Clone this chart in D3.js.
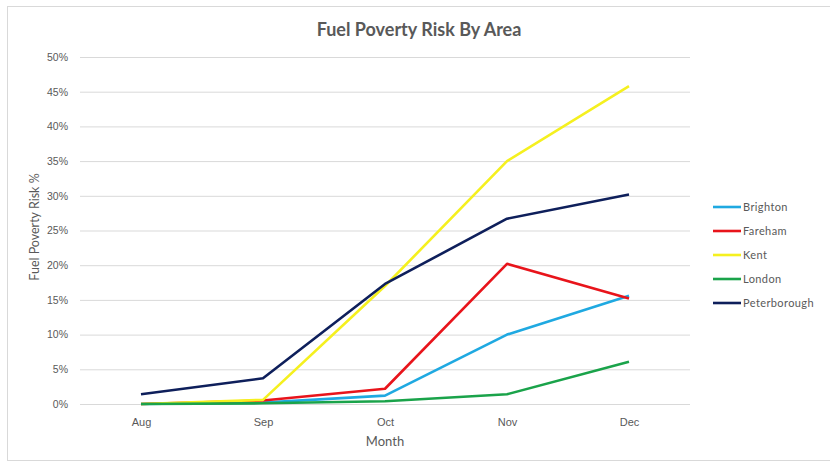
<!DOCTYPE html>
<html>
<head>
<meta charset="utf-8">
<script src="https://cdn.jsdelivr.net/npm/d3@7"></script>
<style>
  html, body { margin: 0; padding: 0; background: #fff; }
  svg { display: block; font-family: Lato, "Open Sans", sans-serif; }
</style>
</head>
<body>
<svg id="chart" width="830" height="465"></svg>
<script>
// Monthly fuel poverty risk (%) per area
const months = ["Aug", "Sep", "Oct", "Nov", "Dec"];
const areas = ["Brighton", "Fareham", "Kent", "London", "Peterborough"];
const colors = ["#1fa9e1", "#e8141b", "#f5f01f", "#1aa34a", "#0e1f5b"];
const brighton     = [0, 0.2, 1.2, 10.0, 15.6];
const fareham      = [0, 0.5, 2.2, 20.2, 15.2];
const kent         = [0, 0.6, 17.0, 35.0, 45.8];
const london       = [0, 0.1, 0.4, 1.4, 6.1];
const peterborough = [1.4, 3.7, 17.3, 26.7, 30.2];
const yTicks = [0, 5, 10, 15, 20, 25, 30, 35, 40, 45, 50];

const series = [brighton, fareham, kent, london, peterborough];

const svg = d3.select("#chart");

// outer chart frame
svg.append("rect")
  .attr("x", 7.5).attr("y", 6.5)
  .attr("width", 840).attr("height", 454)
  .attr("fill", "#fff").attr("stroke", "#d9d9d9");

const plot = { left: 80, right: 690, top: 57, bottom: 404 };

const x = d3.scalePoint().domain(months)
  .range([plot.left, plot.right]).padding(0.5);
const y = d3.scaleLinear().domain([0, 50]).range([plot.bottom, plot.top]);

// horizontal gridlines + y tick labels
const yAxis = d3.axisLeft(y)
  .tickValues(yTicks)
  .tickFormat(d => d + "%")
  .tickSize(-(plot.right - plot.left))
  .tickPadding(12);
const gy = svg.append("g")
  .attr("transform", `translate(${plot.left},0)`)
  .call(yAxis);
gy.select(".domain").remove();
gy.selectAll(".tick line").attr("stroke", "#d9d9d9").attr("stroke-width", 1);
gy.selectAll(".tick text").attr("fill", "#595959").attr("font-size", 10.5);

// x axis labels
const xAxis = d3.axisBottom(x).tickSize(0).tickPadding(14);
const gx = svg.append("g")
  .attr("transform", `translate(0,${plot.bottom})`)
  .call(xAxis);
gx.select(".domain").remove();
gx.selectAll(".tick text").attr("fill", "#595959").attr("font-size", 11);

// lines
const line = d3.line()
  .x((d, i) => x(months[i]))
  .y(d => y(d));

svg.append("g").selectAll("path")
  .data(series)
  .join("path")
  .attr("d", line)
  .attr("fill", "none")
  .attr("stroke", (d, i) => colors[i])
  .attr("stroke-width", 2.6)
  .attr("stroke-linejoin", "round");

// title
svg.append("text")
  .attr("x", 419).attr("y", 36)
  .attr("text-anchor", "middle")
  .attr("fill", "#595959")
  .attr("font-size", 18)
  .attr("font-weight", "bold")
  .text("Fuel Poverty Risk By Area");

// axis titles
svg.append("text")
  .attr("x", 385).attr("y", 446)
  .attr("text-anchor", "middle")
  .attr("fill", "#595959")
  .attr("font-size", 13)
  .text("Month");

svg.append("text")
  .attr("transform", "translate(39,227) rotate(-90)")
  .attr("text-anchor", "middle")
  .attr("fill", "#595959")
  .attr("font-size", 12.5)
  .text("Fuel Poverty Risk %");

// legend
const legend = svg.append("g").attr("transform", "translate(713,207)");
const items = legend.selectAll("g")
  .data(areas)
  .join("g")
  .attr("transform", (d, i) => `translate(0,${i * 24})`);
items.append("line")
  .attr("x1", 0).attr("x2", 28)
  .attr("stroke", (d, i) => colors[i])
  .attr("stroke-width", 2.6);
items.append("text")
  .attr("x", 30).attr("dy", "0.35em")
  .attr("fill", "#595959")
  .attr("font-size", 11)
  .attr("letter-spacing", 0.4)
  .text(d => d);
</script>
</body>
</html>
